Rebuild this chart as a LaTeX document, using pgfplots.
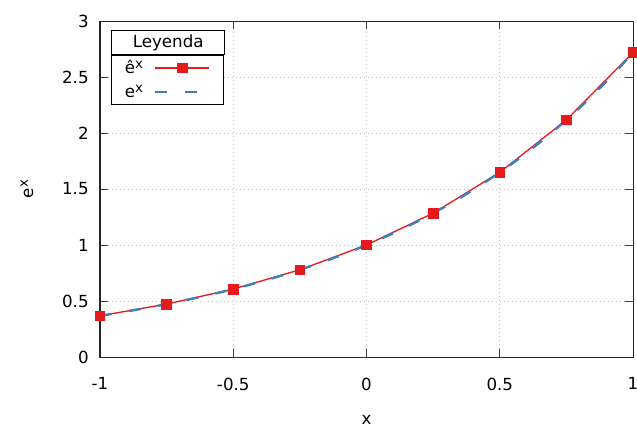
\documentclass[border=0pt]{standalone}
\usepackage{fontspec}
\setmainfont{DejaVu Sans}
\usepackage{pgfplots}
\pgfplotsset{compat=1.18}
\usetikzlibrary{calc}
\definecolor{cred}{RGB}{228,26,28}
\definecolor{cblue}{RGB}{62,126,186}
\newcommand{\sx}{\raisebox{0.6ex}{\fontsize{10}{12}\selectfont x}}
\begin{document}
\begin{tikzpicture}[font=\fontsize{12.5}{15}\selectfont]
\begin{axis}[
  scale only axis,
  width=399.75pt, height=252pt,
  xmin=-1, xmax=1, ymin=0, ymax=3,
  xtick={-1,-0.5,0,0.5,1},
  ytick={0,0.5,1,1.5,2,2.5,3},
  /pgf/number format/assume math mode=true,
  xticklabel style={yshift=-12pt},
  yticklabel style={xshift=-5pt},
  tick align=inside,
  major tick length=6pt,
  axis line style={line width=0.75pt, black!85},
  every tick/.style={line width=0.75pt, black!75},
  grid=major,
  grid style={line width=0.75pt, gray!45, dash pattern=on 0.75pt off 2.25pt},
  xlabel={x}, ylabel={e\sx},
  xlabel style={at={(axis description cs:0.5,-0.1875)}, anchor=center},
  ylabel style={at={(axis description cs:-0.137,0.5)}, anchor=center},
  clip=false,
  legend style={at={(axis description cs:0.0206,0.8988)}, anchor=north west,
    draw=black, line width=0.75pt, fill=white, inner xsep=10pt, inner ysep=2pt,
    row sep=3.75pt, column sep=8pt, name=L,
    nodes={inner sep=0pt, text height=11.5pt, text depth=3pt, text width=14pt}},
  legend plot pos=right,
  legend cell align=left,
  legend image code/.code={\draw[mark repeat=2,mark phase=2,#1] plot coordinates {(0pt,0pt) (20.25pt,0pt) (40.5pt,0pt)};},
]
\addplot[cred, line width=1pt, mark=square*, mark size=3.6pt, mark options={solid, fill=cred, draw=cred, line width=0.5pt}] coordinates {
(-1,0.3679) (-0.75,0.4724) (-0.5,0.6065) (-0.25,0.7788) (0,1) (0.25,1.2840) (0.5,1.6487) (0.75,2.1170) (1,2.7183)};
\addlegendentry{ê\sx}
\addplot[cblue, line width=1.8pt, dash pattern=on 9pt off 13pt] coordinates {
(-1,0.3679) (-0.95,0.3867) (-0.9,0.4066) (-0.85,0.4274) (-0.8,0.4493) (-0.75,0.4724) (-0.7,0.4966) (-0.65,0.5220) (-0.6,0.5488) (-0.55,0.5769) (-0.5,0.6065) (-0.45,0.6376) (-0.4,0.6703) (-0.35,0.7047) (-0.3,0.7408) (-0.25,0.7788) (-0.2,0.8187) (-0.15,0.8607) (-0.1,0.9048) (-0.05,0.9512) (0,1) (0.05,1.0513) (0.1,1.1052) (0.15,1.1618) (0.2,1.2214) (0.25,1.2840) (0.3,1.3499) (0.35,1.4191) (0.4,1.4918) (0.45,1.5683) (0.5,1.6487) (0.55,1.7333) (0.6,1.8221) (0.65,1.9155) (0.7,2.0138) (0.75,2.1170) (0.8,2.2255) (0.85,2.3396) (0.9,2.4596) (0.95,2.5857) (1,2.7183)};
\addlegendentry{e\sx}
\addplot[cred, only marks, mark=square*, mark size=3.6pt, mark options={solid, fill=cred, draw=cred, line width=0.5pt}, forget plot] coordinates {
(-1,0.3679) (-0.75,0.4724) (-0.5,0.6065) (-0.25,0.7788) (0,1) (0.25,1.2840) (0.5,1.6487) (0.75,2.1170) (1,2.7183)};
\end{axis}
\path let \p1=($(L.north east)-(L.north west)$) in node[draw=black, line width=0.75pt, fill=white, anchor=south west, minimum width=\x1, minimum height=18pt, inner sep=0pt] at (L.north west) {Leyenda};
\pgfresetboundingbox
\path[use as bounding box] ($(current axis.south west)+(-75pt,-56.25pt)$) rectangle ($(current axis.north east)+(3pt,15.75pt)$);
\end{tikzpicture}
\end{document}
